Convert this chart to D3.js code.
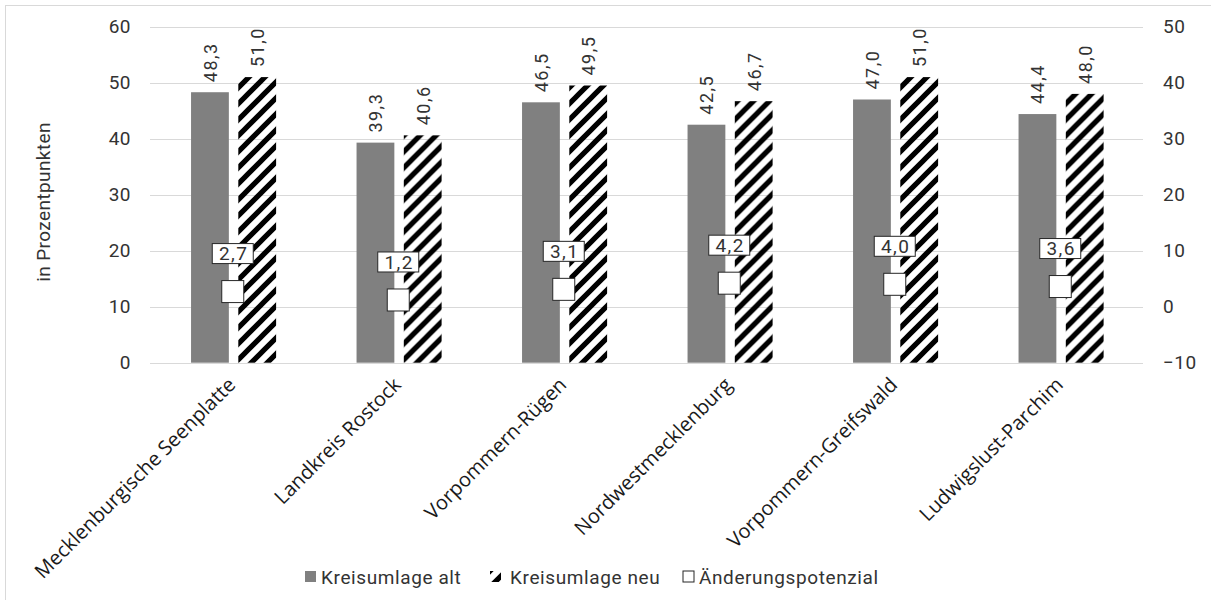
<!DOCTYPE html>
<html>
<head>
<meta charset="utf-8">
<script src="https://cdn.jsdelivr.net/npm/d3@7"></script>
<style>
  body { margin: 0; background: #fff; }
  text { font-family: Roboto, "DejaVu Sans", sans-serif; fill: #333; }
  .cat { font-family: "Open Sans", sans-serif; fill: #1a1a1a; }
</style>
</head>
<body>
<div id="chart"></div>
<script>
// data
var categories = ["Mecklenburgische Seenplatte", "Landkreis Rostock", "Vorpommern-Rügen",
                  "Nordwestmecklenburg", "Vorpommern-Greifswald", "Ludwigslust-Parchim"];
var umlageAlt = [48.3, 39.3, 46.5, 42.5, 47.0, 44.4];
var umlageNeu = [51.0, 40.6, 49.5, 46.7, 51.0, 48.0];
var potenzial = [2.7, 1.2, 3.1, 4.2, 4.0, 3.6];
var leftTicks = [0, 10, 20, 30, 40, 50, 60];
var rightTicks = [-10, 0, 10, 20, 30, 40, 50];
var legendLabels = ["Kreisumlage alt", "Kreisumlage neu", "Änderungspotenzial"];

var W = 1211, H = 600;
var plot = {left: 150, right: 1143, top: 26.7, bottom: 362.7};

var svg = d3.select("#chart").append("svg")
    .attr("width", W)
    .attr("height", H);

// hatch pattern for "neu"
var defs = svg.append("defs");
defs.append("pattern")
    .attr("id", "hatch")
    .attr("patternUnits", "userSpaceOnUse")
    .attr("width", 16).attr("height", 16)
  .append("path")
    .attr("d", "M-4,4 l8,-8 M0,16 l16,-16 M12,20 l8,-8")
    .attr("stroke", "#000")
    .attr("stroke-width", 5.2);

// chart frame
svg.append("rect")
    .attr("x", 5.5).attr("y", 5.5)
    .attr("width", W).attr("height", H)
    .attr("fill", "none")
    .attr("stroke", "#d9d9d9");

// scales
var x0 = d3.scaleBand().domain(categories).range([plot.left, plot.right]);
var x1 = d3.scaleBand().domain(["alt", "neu"])
    .range([x0.bandwidth() * 0.248, x0.bandwidth() * 0.762])
    .paddingInner(0.2);
var y = d3.scaleLinear().domain([0, 60]).range([plot.bottom, plot.top]);
var y2 = d3.scaleLinear().domain([-10, 50]).range([plot.bottom, plot.top]);

// gridlines
svg.append("g").selectAll("line")
  .data(leftTicks)
  .join("line")
    .attr("x1", plot.left).attr("x2", plot.right)
    .attr("y1", d => Math.round(y(d)) + 0.5)
    .attr("y2", d => Math.round(y(d)) + 0.5)
    .attr("stroke", "#d9d9d9")
    .attr("stroke-width", 1);

// left axis
var yAxis = svg.append("g")
    .attr("transform", "translate(" + plot.left + ",0)")
    .call(d3.axisLeft(y).tickValues(leftTicks).tickSize(0).tickPadding(19));
yAxis.select(".domain").remove();
yAxis.selectAll("text").style("font-size", "19px").style("letter-spacing", "0.5px").attr("fill", "#333");

// right axis
var yAxis2 = svg.append("g")
    .attr("transform", "translate(" + plot.right + ",0)")
    .call(d3.axisRight(y2).tickValues(rightTicks).tickSize(0).tickPadding(20));
yAxis2.select(".domain").remove();
yAxis2.selectAll("text").style("font-size", "19px").style("letter-spacing", "0.5px").attr("fill", "#333");

// y axis title
svg.append("text")
    .attr("transform", "translate(50,202) rotate(-90)")
    .attr("text-anchor", "middle")
    .style("font-size", "19px")
    .style("letter-spacing", "0.4px")
    .text("in Prozentpunkten");

// bars
var groups = svg.append("g").selectAll("g")
  .data(categories)
  .join("g")
    .attr("transform", d => "translate(" + x0(d) + ",0)");

groups.append("rect")
    .attr("x", x1("alt"))
    .attr("width", x1.bandwidth())
    .attr("y", (d, i) => y(umlageAlt[i]))
    .attr("height", (d, i) => y(0) - y(umlageAlt[i]))
    .attr("fill", "#808080");

groups.append("rect")
    .attr("x", x1("neu"))
    .attr("width", x1.bandwidth())
    .attr("y", (d, i) => y(umlageNeu[i]))
    .attr("height", (d, i) => y(0) - y(umlageNeu[i]))
    .attr("fill", "url(#hatch)");

// bar value labels (rotated)
var fmt = v => v.toFixed(1).replace(".", ",");
groups.append("text")
    .attr("transform", (d, i) => "translate(" + (x1("alt") + x1.bandwidth() / 2 + 7) + "," + (y(umlageAlt[i]) - 10) + ") rotate(-90)")
    .style("font-size", "18px")
    .style("letter-spacing", "1.5px")
    .text((d, i) => fmt(umlageAlt[i]));
groups.append("text")
    .attr("transform", (d, i) => "translate(" + (x1("neu") + x1.bandwidth() / 2 + 7) + "," + (y(umlageNeu[i]) - 10) + ") rotate(-90)")
    .style("font-size", "18px")
    .style("letter-spacing", "1.5px")
    .text((d, i) => fmt(umlageNeu[i]));

// Änderungspotenzial markers
var cx = x0.bandwidth() / 2;
groups.append("rect")
    .attr("x", cx - 11)
    .attr("y", (d, i) => y2(potenzial[i]) - 11)
    .attr("width", 22).attr("height", 22)
    .attr("fill", "#fff")
    .attr("stroke", "#262626")
    .attr("stroke-width", 1);

groups.append("rect")
    .attr("x", cx - 20.5)
    .attr("y", (d, i) => y2(potenzial[i]) - 48)
    .attr("width", 41).attr("height", 20)
    .attr("fill", "#fff")
    .attr("stroke", "#262626")
    .attr("stroke-width", 1);

groups.append("text")
    .attr("x", cx + 1)
    .attr("y", (d, i) => y2(potenzial[i]) - 38)
    .attr("dy", "0.36em")
    .attr("text-anchor", "middle")
    .style("font-size", "19px")
    .style("letter-spacing", "1.5px")
    .text((d, i) => fmt(potenzial[i]));

// category labels
svg.append("g").selectAll("text")
  .data(categories)
  .join("text")
    .attr("class", "cat")
    .attr("transform", d => "translate(" + (x0(d) + x0.bandwidth() / 2 + 4) + ",386) rotate(-45)")
    .attr("text-anchor", "end")
    .style("font-size", "20px")
    .text(d => d);

// legend
var legendX = [305, 490, 683];
var legendFill = ["#808080", "url(#hatch)", "#fff"];
var lg = svg.append("g").selectAll("g")
  .data(legendLabels)
  .join("g")
    .attr("transform", (d, i) => "translate(" + legendX[i] + ",571)");
lg.append("rect")
    .attr("width", 11).attr("height", 11)
    .attr("fill", (d, i) => legendFill[i])
    .attr("stroke", (d, i) => i == 2 ? "#262626" : "none");
lg.append("text")
    .attr("x", (d, i) => i == 1 ? 20 : 16)
    .attr("y", 6)
    .attr("dy", "0.36em")
    .style("font-size", "19px")
    .style("letter-spacing", "0.6px")
    .text(d => d);
</script>
</body>
</html>
